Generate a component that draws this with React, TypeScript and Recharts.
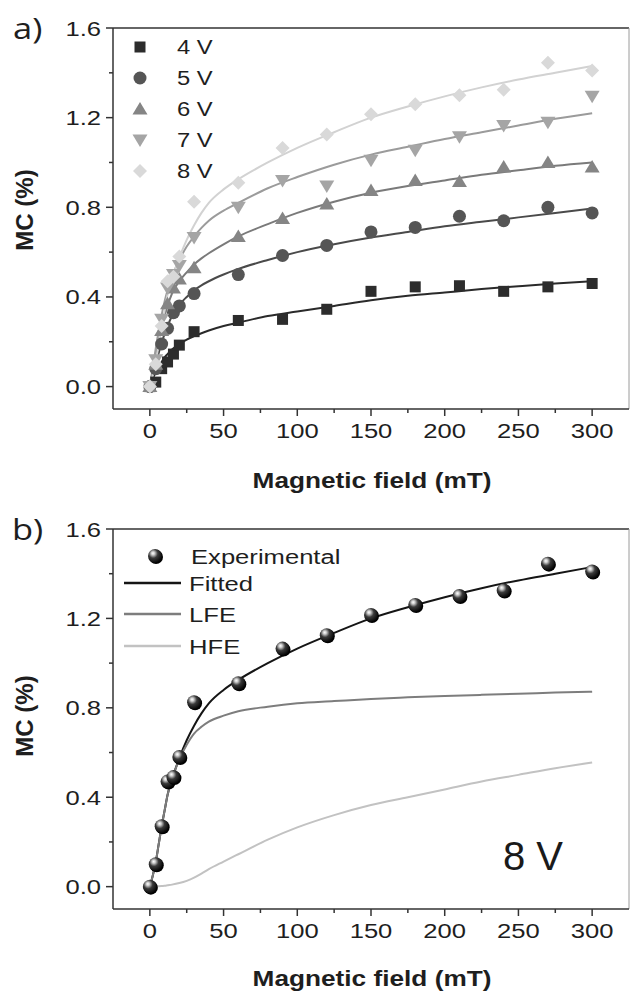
import React from "react";
import { ComposedChart, Line, Scatter, XAxis, YAxis, ReferenceLine } from "recharts";

// measured field values (mT) for the data points
const fieldPts = [0, 4, 8, 12, 16, 20, 30, 60, 90, 120, 150, 180, 210, 240, 270, 300];
const mc4V = [0, 0.02, 0.08, 0.11, 0.145, 0.185, 0.245, 0.295, 0.3, 0.345, 0.425, 0.445, 0.45, 0.425, 0.445, 0.46];
const mc5V = [0, 0.08, 0.19, 0.26, 0.33, 0.36, 0.415, 0.5, 0.585, 0.63, 0.69, 0.71, 0.76, 0.74, 0.8, 0.775];
const mc6V = [0, 0.1, 0.25, 0.37, 0.44, 0.48, 0.53, 0.67, 0.75, 0.815, 0.875, 0.92, 0.915, 0.98, 1.0, 0.98];
const mc7V = [0, 0.12, 0.3, 0.44, 0.5, 0.54, 0.665, 0.8, 0.92, 0.895, 1.01, 1.055, 1.115, 1.165, 1.18, 1.295];
const mc8V = [0, 0.1, 0.27, 0.47, 0.49, 0.58, 0.825, 0.91, 1.065, 1.125, 1.215, 1.26, 1.3, 1.325, 1.445, 1.41];

// fitted curves
const fitField = [0, 2, 4, 6, 8, 10, 12, 15, 20, 25, 30, 35, 40, 50, 60, 80, 100, 125, 150, 175, 200, 225, 250, 275, 300];
const fit4V = [0, 0.035, 0.065, 0.09, 0.11, 0.13, 0.145, 0.165, 0.19, 0.21, 0.225, 0.238, 0.25, 0.27, 0.285, 0.315, 0.335, 0.36, 0.385, 0.405, 0.42, 0.435, 0.448, 0.46, 0.47];
const fit5V = [0, 0.05, 0.1, 0.15, 0.195, 0.235, 0.27, 0.315, 0.365, 0.4, 0.43, 0.452, 0.47, 0.5, 0.525, 0.565, 0.6, 0.635, 0.665, 0.69, 0.715, 0.735, 0.755, 0.775, 0.795];
const fit6V = [0, 0.07, 0.14, 0.205, 0.265, 0.315, 0.36, 0.415, 0.47, 0.51, 0.545, 0.572, 0.595, 0.635, 0.67, 0.725, 0.775, 0.825, 0.865, 0.895, 0.92, 0.945, 0.965, 0.985, 1.0];
const fit7V = [0, 0.085, 0.17, 0.25, 0.32, 0.38, 0.43, 0.49, 0.565, 0.625, 0.67, 0.708, 0.74, 0.785, 0.82, 0.885, 0.935, 0.99, 1.035, 1.07, 1.105, 1.135, 1.165, 1.195, 1.22];
const fit8V = [0, 0.05, 0.11, 0.19, 0.27, 0.34, 0.41, 0.48, 0.575, 0.655, 0.72, 0.775, 0.82, 0.88, 0.925, 1.0, 1.065, 1.135, 1.2, 1.25, 1.295, 1.335, 1.37, 1.4, 1.43];
const lfe8V = [0, 0.05, 0.11, 0.19, 0.27, 0.34, 0.41, 0.48, 0.57, 0.635, 0.685, 0.715, 0.738, 0.765, 0.785, 0.805, 0.82, 0.83, 0.84, 0.847, 0.853, 0.858, 0.863, 0.868, 0.872];
const hfe8V = [0, 0, 0.001, 0.002, 0.003, 0.004, 0.006, 0.009, 0.016, 0.026, 0.04, 0.058, 0.078, 0.112, 0.145, 0.21, 0.265, 0.32, 0.365, 0.4, 0.435, 0.47, 0.5, 0.53, 0.555];

const xTicks = [0, 25, 50, 75, 100, 125, 150, 175, 200, 225, 250, 275, 300];
const yTicks = [0, 0.2, 0.4, 0.6, 0.8, 1.0, 1.2, 1.4, 1.6];
const legendA = ["4 V", "5 V", "6 V", "7 V", "8 V"];
const legendB = ["Experimental", "Fitted", "LFE", "HFE"];

const zip = (xs: number[], ys: number[]) => xs.map((x, i) => ({ x, y: ys[i] }));

const FONT = "'Liberation Sans', Arial, sans-serif";
const STRETCH = 1.22;

// the original figure is a bit wider than tall, so the text is stretched sideways
function SText({ x, y, size, children, anchor = "start", weight = "normal", sx = STRETCH, family = FONT, fill = "#1e1e1e" }: any) {
    return (
        <g transform={`translate(${x},${y}) scale(${sx},1)`}>
            <text x={0} y={0} fontSize={size} fontFamily={family} fontWeight={weight} textAnchor={anchor} fill={fill}>
                {children}
            </text>
        </g>
    );
}

function Marker({ cx, cy, kind, fill }: any) {
    if (cx == null || cy == null) return null;
    switch (kind) {
        case "square":
            return <rect x={cx - 5.5} y={cy - 5.5} width={11} height={11} fill={fill} />;
        case "circle":
            return <circle cx={cx} cy={cy} r={6.5} fill={fill} />;
        case "up":
            return <polygon points={`${cx},${cy - 7} ${cx + 7.5},${cy + 5.5} ${cx - 7.5},${cy + 5.5}`} fill={fill} />;
        case "down":
            return <polygon points={`${cx - 7.5},${cy - 5.5} ${cx + 7.5},${cy - 5.5} ${cx},${cy + 7}`} fill={fill} />;
        case "diamond":
            return <polygon points={`${cx},${cy - 7} ${cx + 7},${cy} ${cx},${cy + 7} ${cx - 7},${cy}`} fill={fill} />;
        case "ball":
            return (
                <g>
                    <circle cx={cx + 1} cy={cy + 1} r={7} fill="#000" />
                    <circle cx={cx} cy={cy} r={7} fill="url(#ballGrad)" />
                </g>
            );
        default:
            return null;
    }
}

const XTick = ({ x, y, payload }: any) => {
    const v = payload.value;
    const major = v % 50 === 0;
    return (
        <g>
            <line x1={x} x2={x} y1={y} y2={y + (major ? 7 : 4)} stroke="#333" strokeWidth={1.5} />
            {major && (
                <SText x={x} y={y + 29} size={21} anchor="middle">
                    {v}
                </SText>
            )}
        </g>
    );
};

const YTick = ({ x, y, payload }: any) => {
    const v = payload.value;
    const major = Math.round(v * 10) % 4 === 0;
    return (
        <g>
            <line x1={x - (major ? 7 : 4)} x2={x} y1={y} y2={y} stroke="#333" strokeWidth={1.5} />
            {major && (
                <SText x={x - 12} y={y + 7.5} size={21} anchor="end">
                    {v.toFixed(1)}
                </SText>
            )}
        </g>
    );
};

const seriesA = [
    { name: legendA[0], pts: mc4V, fit: fit4V, kind: "square", mark: "#2c2c2c", line: "#2a2a2a" },
    { name: legendA[1], pts: mc5V, fit: fit5V, kind: "circle", mark: "#555555", line: "#4a4a4a" },
    { name: legendA[2], pts: mc6V, fit: fit6V, kind: "up", mark: "#858585", line: "#7a7a7a" },
    { name: legendA[3], pts: mc7V, fit: fit7V, kind: "down", mark: "#a5a5a5", line: "#9b9b9b" },
    { name: legendA[4], pts: mc8V, fit: fit8V, kind: "diamond", mark: "#d9d9d9", line: "#d2d2d2" },
];

const linesB = [
    { name: legendB[1], data: fit8V, color: "#151515" },
    { name: legendB[2], data: lfe8V, color: "#7d7d7d" },
    { name: legendB[3], data: hfe8V, color: "#c2c2c2" },
];

function Axes() {
    return [
        <XAxis
            key="x"
            type="number"
            dataKey="x"
            domain={[-25, 325]}
            ticks={xTicks}
            interval={0}
            allowDataOverflow
            height={60}
            tickSize={0}
            tickMargin={0}
            tickLine={false}
            tick={(p: any) => <XTick {...p} />}
            axisLine={{ stroke: "#333", strokeWidth: 1.5 }}
        />,
        <YAxis
            key="y"
            type="number"
            dataKey="y"
            domain={[-0.1, 1.6]}
            ticks={yTicks}
            interval={0}
            allowDataOverflow
            width={113}
            tickSize={0}
            tickMargin={0}
            tickLine={false}
            tick={(p: any) => <YTick {...p} />}
            axisLine={{ stroke: "#333", strokeWidth: 1.5 }}
        />,
        <ReferenceLine key="top" y={1.6} stroke="#333" strokeWidth={1.5} />,
        <ReferenceLine key="right" x={325} stroke="#9a9a9a" strokeWidth={1} />,
    ];
}

function PanelA() {
    return (
        <ComposedChart width={630} height={500} margin={{ top: 28, right: 1, bottom: 31, left: 0 }}>
            {Axes()}
            {seriesA.map((s) => (
                <Line
                    key={"fit" + s.name}
                    data={zip(fitField, s.fit)}
                    dataKey="y"
                    type="monotone"
                    stroke={s.line}
                    strokeWidth={2}
                    dot={false}
                    isAnimationActive={false}
                />
            ))}
            {seriesA.map((s) => (
                <Scatter
                    key={"pts" + s.name}
                    data={zip(fieldPts, s.pts)}
                    dataKey="y"
                    fill={s.mark}
                    shape={(p: any) => <Marker cx={p.cx} cy={p.cy} kind={s.kind} fill={s.mark} />}
                    isAnimationActive={false}
                />
            ))}
        </ComposedChart>
    );
}

function PanelB() {
    return (
        <ComposedChart width={630} height={493} margin={{ top: 29, right: 1, bottom: 24, left: 0 }}>
            {Axes()}
            <Scatter
                data={zip(fieldPts, mc8V)}
                dataKey="y"
                fill="#111"
                shape={(p: any) => <Marker cx={p.cx} cy={p.cy} kind="ball" />}
                isAnimationActive={false}
            />
            {linesB.map((l) => (
                <Line
                    key={l.name}
                    data={zip(fitField, l.data)}
                    dataKey="y"
                    type="monotone"
                    stroke={l.color}
                    strokeWidth={2}
                    dot={false}
                    isAnimationActive={false}
                />
            ))}
        </ComposedChart>
    );
}

function Overlay() {
    const rowsA = [47, 78, 109, 140, 171];
    const rowsB = [583, 614, 646];
    return (
        <svg width={630} height={993} style={{ position: "absolute", left: 0, top: 0, pointerEvents: "none" }}>
            <defs>
                <radialGradient id="ballGrad" cx="0.4" cy="0.35" r="0.65" fx="0.35" fy="0.3">
                    <stop offset="0" stopColor="#ffffff" />
                    <stop offset="0.18" stopColor="#cfcfcf" />
                    <stop offset="0.5" stopColor="#3a3a3a" />
                    <stop offset="1" stopColor="#050505" />
                </radialGradient>
            </defs>

            {/* panel a */}
            <SText x={13} y={39} size={30} sx={1.15} family="'Open Sans', sans-serif">a)</SText>
            <text transform="translate(33,210) rotate(-90)" textAnchor="middle" fontSize={24} fontWeight="bold" fontFamily={FONT} fill="#1e1e1e">
                MC (%)
            </text>
            <SText x={372} y={488} size={21.5} weight="bold" anchor="middle">Magnetic field (mT)</SText>
            {seriesA.map((s, i) => (
                <g key={s.name}>
                    <Marker cx={140} cy={rowsA[i]} kind={s.kind} fill={s.mark} />
                    <SText x={177} y={rowsA[i] + 7} size={19.5}>{s.name}</SText>
                </g>
            ))}

            {/* panel b */}
            <SText x={12} y={540} size={30} sx={1.15} family="'Open Sans', sans-serif">b)</SText>
            <text transform="translate(33,716) rotate(-90)" textAnchor="middle" fontSize={24} fontWeight="bold" fontFamily={FONT} fill="#1e1e1e">
                MC (%)
            </text>
            <SText x={372} y={986} size={21.5} weight="bold" anchor="middle">Magnetic field (mT)</SText>
            <Marker cx={155} cy={556} kind="ball" />
            <SText x={191} y={564} size={21}>{legendB[0]}</SText>
            {linesB.map((l, i) => (
                <g key={l.name}>
                    <line x1={124} x2={181} y1={rowsB[i]} y2={rowsB[i]} stroke={l.color} strokeWidth={2.5} />
                    <SText x={189} y={rowsB[i] + 7.5} size={21}>{l.name}</SText>
                </g>
            ))}
            <text x={503} y={870} fontSize={40} fontFamily={FONT} fill="#1a1a1a">8 V</text>
        </svg>
    );
}

export default function App() {
    return (
        <div style={{ position: "absolute", left: 0, top: 0, width: 630, height: 993, background: "#fff" }}>
            <div style={{ position: "absolute", left: 0, top: 0 }}>
                <PanelA />
            </div>
            <div style={{ position: "absolute", left: 0, top: 500 }}>
                <PanelB />
            </div>
            <Overlay />
        </div>
    );
}
